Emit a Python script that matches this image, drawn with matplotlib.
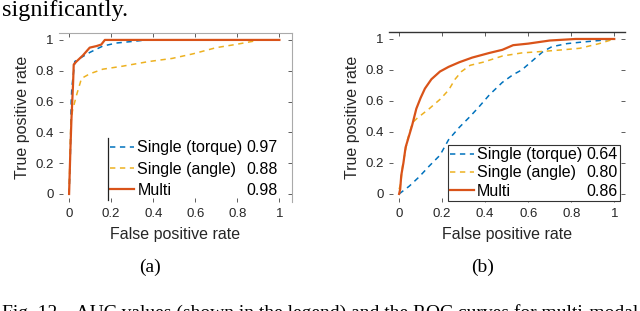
import matplotlib
matplotlib.use("Agg")
import matplotlib.pyplot as plt
from matplotlib.lines import Line2D

plt.rcParams['font.family'] = ['Liberation Sans', 'DejaVu Sans']

# ---- data (panel a) ----
a_multi_fpr = [0, 0.006, 0.011, 0.019, 0.022, 0.035, 0.066, 0.098, 0.13, 0.153, 0.17, 1.0]
a_multi_tpr = [0, 0.28, 0.48, 0.72, 0.84, 0.86, 0.90, 0.95, 0.96, 0.97, 1.0, 1.0]
a_torque_fpr = [0, 0.006, 0.010, 0.013, 0.027, 0.05, 0.10, 0.16, 0.225, 0.30, 0.37, 1.0]
a_torque_tpr = [0, 0.24, 0.60, 0.69, 0.86, 0.88, 0.92, 0.96, 0.98, 0.99, 1.0, 1.0]
a_angle_fpr = [0, 0.003, 0.008, 0.016, 0.035, 0.059, 0.098, 0.16, 0.256, 0.38, 0.49, 0.59, 0.70, 0.79, 0.87, 0.905]
a_angle_tpr = [0, 0.19, 0.45, 0.54, 0.64, 0.75, 0.78, 0.81, 0.83, 0.86, 0.88, 0.91, 0.95, 0.97, 0.99, 1.0]

# ---- data (panel b) ----
b_multi_fpr = [0, 0.005, 0.01, 0.02, 0.03, 0.045, 0.06, 0.08, 0.10, 0.12, 0.15, 0.19, 0.23, 0.28, 0.34, 0.42, 0.48, 0.53, 0.60, 0.70, 0.82, 1.0]
b_multi_tpr = [0, 0.03, 0.12, 0.20, 0.30, 0.37, 0.44, 0.55, 0.62, 0.68, 0.74, 0.79, 0.82, 0.85, 0.88, 0.91, 0.93, 0.96, 0.97, 0.99, 1.0, 1.0]
b_angle_fpr = [0, 0.008, 0.016, 0.039, 0.062, 0.085, 0.14, 0.19, 0.23, 0.26, 0.29, 0.33, 0.39, 0.48, 0.57, 0.67, 0.76, 0.84, 0.93, 1.0]
b_angle_tpr = [0.03, 0.07, 0.18, 0.35, 0.46, 0.49, 0.55, 0.61, 0.67, 0.74, 0.79, 0.83, 0.85, 0.89, 0.91, 0.92, 0.93, 0.94, 0.97, 1.0]
b_torque_fpr = [0, 0.047, 0.093, 0.14, 0.19, 0.23, 0.28, 0.33, 0.37, 0.42, 0.48, 0.53, 0.57, 0.62, 0.67, 0.71, 0.78, 0.85, 0.93, 1.0]
b_torque_tpr = [0, 0.05, 0.11, 0.18, 0.25, 0.35, 0.43, 0.50, 0.56, 0.64, 0.72, 0.77, 0.80, 0.86, 0.92, 0.95, 0.97, 0.98, 0.99, 1.0]

series_names = ['Single (torque)', 'Single (angle)', 'Multi']
auc_a = ['0.97', '0.88', '0.98']
auc_b = ['0.64', '0.80', '0.86']
ticks = [0, 0.2, 0.4, 0.6, 0.8, 1]
tick_labels = ['0', '0.2', '0.4', '0.6', '0.8', '1']

C_BLUE = '#0072BD'
C_YEL = '#EDB120'
C_RED = '#D95319'

fig = plt.figure(figsize=(6.4, 3.11), dpi=100)
W, H = 640, 311

def axes_px(l, t, r, b):
    return fig.add_axes([l / W, 1 - b / H, (r - l) / W, (b - t) / H])

axA = axes_px(59, 33, 292, 202)
axB = axes_px(389, 32, 625, 202)

def style(ax, xlim, ylim):
    ax.set_xlim(*xlim)
    ax.set_ylim(*ylim)
    ax.set_xticks(ticks)
    ax.set_xticklabels(tick_labels)
    ax.set_yticks(ticks)
    ax.set_yticklabels(tick_labels)
    ax.tick_params(direction='in', length=3, width=0.6, colors='#444444',
                   labelcolor='#262626', labelsize=9.5, top=True, right=True, pad=4)
    ax.set_xlabel('False positive rate', fontsize=11.5, color='#262626', labelpad=5)
    ax.set_ylabel('True positive rate', fontsize=11.5, color='#262626', labelpad=4)

def add_legend(ax, handles, aucs, anchor, spacing):
    blank = [Line2D([], [], linestyle='none') for _ in aucs]
    leg = ax.legend(handles + blank, series_names + aucs, ncol=2,
                    loc='lower right', bbox_to_anchor=anchor,
                    fontsize=11.5, handlelength=1.5, handletextpad=0.2,
                    columnspacing=-1.45, labelspacing=spacing,
                    borderpad=0.15, borderaxespad=0, fancybox=False,
                    framealpha=1, facecolor='white', edgecolor='#333333')
    leg.get_frame().set_linewidth(0.8)
    return leg

# panel a
lt, = axA.plot(a_torque_fpr, a_torque_tpr, color=C_BLUE, lw=1.1, ls=(0, (3.5, 3)))
la, = axA.plot(a_angle_fpr, a_angle_tpr, color=C_YEL, lw=1.1, ls=(0, (3.5, 3)))
lm, = axA.plot(a_multi_fpr, a_multi_tpr, color=C_RED, lw=1.6)
style(axA, (-0.048, 1.06), (-0.052, 1.045))
for s in ['left', 'bottom']:
    axA.spines[s].set_visible(False)
for s in ['top', 'right']:
    axA.spines[s].set_color('#aaaaaa')
    axA.spines[s].set_linewidth(0.8)
legA = add_legend(axA, [lt, la, lm], auc_a, (0.95, 0.012), 0.38)
legA.get_frame().set_edgecolor('none')
legA.get_frame().set_facecolor('none')

# panel b
lt2, = axB.plot(b_torque_fpr, b_torque_tpr, color=C_BLUE, lw=1.1, ls=(0, (3.5, 3)))
la2, = axB.plot(b_angle_fpr, b_angle_tpr, color=C_YEL, lw=1.1, ls=(0, (3.5, 3)))
lm2, = axB.plot(b_multi_fpr, b_multi_tpr, color=C_RED, lw=1.6)
style(axB, (-0.047, 1.05), (-0.052, 1.045))
for s in ['left', 'bottom', 'right']:
    axB.spines[s].set_visible(False)
axB.spines['top'].set_color('#333333')
axB.spines['top'].set_linewidth(1.0)
add_legend(axB, [lt2, la2, lm2], auc_b, (0.979, 0.006), 0.2)

# left border line of legend in panel a
fig.canvas.draw()
bb = legA.get_window_extent().transformed(fig.transFigure.inverted())
fig.add_artist(Line2D([bb.x0, bb.x0], [bb.y0, bb.y1], transform=fig.transFigure,
                      color='#222222', lw=0.9))

serif = ['Liberation Serif', 'DejaVu Serif']
fig.text(2 / W, 1 - 16 / H, 'significantly.', family=serif, fontsize=17.5,
         ha='left', va='baseline')
fig.text(150 / W, 1 - 267 / H, '(a)', family=serif, fontsize=14, ha='center', va='center')
fig.text(483 / W, 1 - 267 / H, '(b)', family=serif, fontsize=14, ha='center', va='center')
fig.text(2 / W, 1 - 318 / H,
         'Fig. 12.   AUC values (shown in the legend) and the ROC curves for multi-modal',
         family=serif, fontsize=14.0, ha='left', va='baseline')

fig.savefig('out.png', dpi=100)
